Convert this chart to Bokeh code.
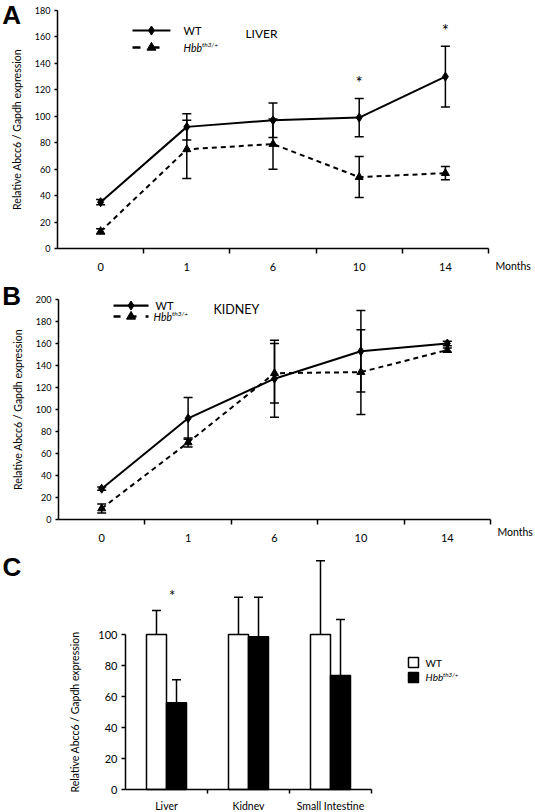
import math
from bokeh.plotting import figure
from bokeh.layouts import column
from bokeh.models import Range1d, FixedTicker, Whisker, TeeHead, ColumnDataSource, LinearAxis
from bokeh.core.properties import value
from bokeh.embed import file_html
from bokeh.resources import INLINE

FONT = "Lato"

# ---------------- data ----------------
months = ["0", "1", "6", "10", "14"]

liver_wt = [35, 92, 97, 99, 130]
liver_wt_err = [2, 10, 13, 14.5, 23]
liver_hbb = [13, 75, 79, 54, 57]
liver_hbb_err = [2, 22, 19, 15.5, 5]
liver_sig = [False, False, False, True, True]

kidney_wt = [28, 92, 128, 153, 160]
kidney_wt_err = [1.5, 19, 35, 37, 2]
kidney_hbb = [10, 70, 133, 134, 154]
kidney_hbb_err = [4, 4, 27, 38.5, 2]
kidney_sig = [False, False, False, False, False]

tissues = ["Liver", "Kidney", "Small Intestine"]
tissue_wt = [100, 100, 100]
tissue_wt_err = [15.5, 24, 47.6]
tissue_hbb = [56, 98.5, 73.5]
tissue_hbb_err = [14.8, 25.5, 36.2]
tissue_sig = [True, False, False]

y_ticks_a = list(range(0, 181, 20))
y_ticks_b = list(range(0, 201, 20))
y_ticks_c = list(range(0, 101, 20))

YLABEL = "Relative Abcc6 / Gapdh expression"
W = 535


def make_fig(height, axis_left_px, axis_bottom_px, sx, sy):
    """Figure whose frame fills the whole canvas; axes sit at fixed locations inside it."""
    x0 = -0.5 - axis_left_px / sx
    y1 = axis_bottom_px / sy
    p = figure(width=W, height=height,
               x_range=Range1d(x0, x0 + W / sx), y_range=Range1d(y1 - height / sy, y1),
               output_backend="svg", toolbar_location=None,
               x_axis_location=None, y_axis_location=None,
               min_border=0, min_border_left=0, min_border_right=0,
               min_border_top=0, min_border_bottom=0)
    p.xgrid.visible = False
    p.ygrid.visible = False
    p.outline_line_color = None
    p.background_fill_color = "white"
    p.border_fill_color = "white"
    return p


def style_axis(ax):
    ax.axis_line_color = "black"
    ax.axis_line_width = 1.5
    ax.major_tick_line_color = "black"
    ax.major_tick_line_width = 1.5
    ax.minor_tick_line_color = "black"
    ax.minor_tick_line_width = 1.5
    ax.major_label_text_font = FONT
    ax.major_label_text_color = "black"
    ax.axis_label_text_font = FONT
    ax.axis_label_text_font_style = "normal"
    ax.axis_label_text_color = "black"


def add_axes(p, labels, y_ticks, y_max, x_font, y_font, x_standoff, x_tick, y_tick, ylabel_standoff):
    n = len(labels)
    xa = LinearAxis(fixed_location=0)
    style_axis(xa)
    xa.ticker = FixedTicker(ticks=list(range(n)), minor_ticks=[i + 0.5 for i in range(n)])
    xa.major_label_overrides = {i: t for i, t in enumerate(labels)}
    xa.bounds = (-0.5, n - 0.5)
    xa.major_tick_out = 0
    xa.major_tick_in = 0
    xa.minor_tick_out = x_tick
    xa.minor_tick_in = 0
    xa.major_label_text_font_size = x_font
    xa.major_label_standoff = x_standoff
    p.add_layout(xa, "below")

    ya = LinearAxis(fixed_location=-0.5)
    style_axis(ya)
    ya.ticker = FixedTicker(ticks=y_ticks, minor_ticks=[])
    ya.bounds = (0, y_max)
    ya.major_tick_out = y_tick
    ya.major_tick_in = 0
    ya.minor_tick_out = 0
    ya.minor_tick_in = 0
    ya.major_label_text_font_size = y_font
    ya.major_label_standoff = 4
    ya.axis_label = YLABEL
    ya.axis_label_text_font_size = "10.5px"
    ya.axis_label_standoff = ylabel_standoff
    p.add_layout(ya, "left")


def txt(p, x, y, s, size="11px", style="normal", align="left", baseline="middle", **kw):
    p.text([x], [y], text=[s], text_font=value(FONT), text_font_style=style,
           text_font_size=size, text_align=align, text_baseline=baseline,
           text_color="black", **kw)


def letter(p, x, y, s):
    p.text([x], [y], text=[s], text_font=value("Liberation Sans"), text_font_style="bold",
           text_font_size="26px", text_align="left", text_baseline="top", text_color="black")


def hbb_label(p, x, y, size=10.5):
    txt(p, x, y, "Hbb", size=f"{size}px", style="italic")
    txt(p, x, y, "th3/+", size=f"{size * 0.62:.1f}px", style="italic",
        x_offset=size * 1.75, y_offset=-3)


def line_panel(height, axis_left_px, axis_bottom_px, sx, sy, y_max, y_ticks,
               wt, wt_err, hbb, hbb_err, sig):
    p = make_fig(height, axis_left_px, axis_bottom_px, sx, sy)
    add_axes(p, months, y_ticks, y_max, "11px", "9px", 9, 5, 3, 9)
    x = list(range(len(months)))
    src = ColumnDataSource(dict(
        x=x, wt=wt, hbb=hbb,
        wt_lo=[v - e for v, e in zip(wt, wt_err)], wt_hi=[v + e for v, e in zip(wt, wt_err)],
        hbb_lo=[v - e for v, e in zip(hbb, hbb_err)], hbb_hi=[v + e for v, e in zip(hbb, hbb_err)],
    ))
    for lo, hi in (("hbb_lo", "hbb_hi"), ("wt_lo", "wt_hi")):
        p.add_layout(Whisker(source=src, base="x", lower=lo, upper=hi, line_width=1.5, line_color="black",
                             upper_head=TeeHead(size=9, line_width=1.5, line_color="black"),
                             lower_head=TeeHead(size=9, line_width=1.5, line_color="black")))
    p.line("x", "hbb", source=src, line_dash="5 4", line_width=2, line_color="black")
    p.scatter("x", "hbb", source=src, marker="triangle", size=8, color="black")
    p.line("x", "wt", source=src, line_width=2, line_color="black")
    p.scatter("x", "wt", source=src, marker="diamond", size=9, color="black")

    sx_ = [i for i, s in enumerate(sig) if s]
    sy_ = [wt[i] + wt_err[i] + 12 for i in sx_]
    if sx_:
        p.text(sx_, sy_, text=["*"] * len(sx_), text_font=value(FONT), text_font_size="17px",
               text_align="center", text_baseline="middle", text_color="black")
    return p


def legend_lines(p, x0, x1, y_wt, y_hbb, x_txt_wt, x_txt_hbb, dash):
    xm = (x0 + x1) / 2
    p.line([x0, x1], [y_wt, y_wt], line_width=2.2, line_color="black")
    p.scatter([xm], [y_wt], marker="diamond", size=9, color="black")
    p.line([x0, x1], [y_hbb, y_hbb], line_width=2.4, line_dash=dash, line_color="black")
    p.scatter([xm], [y_hbb], marker="triangle", size=9, color="black")
    txt(p, x_txt_wt, y_wt, "WT", size="11px")
    hbb_label(p, x_txt_hbb, y_hbb)


# ---------------- panel A (liver) ----------------
pa = line_panel(280, 57, 248, 86.2, 1.322, 180, y_ticks_a,
                liver_wt, liver_wt_err, liver_hbb, liver_hbb_err, liver_sig)
letter(pa, -1.14, 187.6, "A")
txt(pa, 4.58, -12.9, "Months", size="10.5px")
legend_lines(pa, 0.37, 0.81, 164.9, 152.0, 0.962, 0.962, "8 11")
txt(pa, 1.68, 162.6, "LIVER", size="12px")

# ---------------- panel B (kidney) ----------------
pb = line_panel(265, 58, 239, 86.4, 1.1, 200, y_ticks_b,
                kidney_wt, kidney_wt_err, kidney_hbb, kidney_hbb_err, kidney_sig)
letter(pb, -1.15, 216.4, "B")
txt(pb, 4.58, -11.8, "Months", size="10.5px")
legend_lines(pb, 0.137, 0.542, 194.5, 184.5, 0.623, 0.60, "7 9")
txt(pb, 1.294, 190.9, "KIDNEY", size="12.5px")

# ---------------- panel C (tissues) ----------------
pc = make_fig(265, 125, 244, 82, 1.55)
add_axes(pc, tissues, y_ticks_c, 100, "10.5px", "11px", 6, 4, 4, 14)
xc = list(range(len(tissues)))
off = 0.122
bw = 0.244
srcc = ColumnDataSource(dict(
    xw=[i - off for i in xc], xh=[i + off for i in xc],
    wt=tissue_wt, hbb=tissue_hbb,
    wt_hi=[v + e for v, e in zip(tissue_wt, tissue_wt_err)],
    hbb_hi=[v + e for v, e in zip(tissue_hbb, tissue_hbb_err)],
))
for b, lo, hi in (("xw", "wt", "wt_hi"), ("xh", "hbb", "hbb_hi")):
    pc.add_layout(Whisker(source=srcc, base=b, lower=lo, upper=hi, line_width=1.5, line_color="black",
                          upper_head=TeeHead(size=9, line_width=1.5, line_color="black"),
                          lower_head=None))
pc.vbar(x="xw", top="wt", width=bw, source=srcc, fill_color="white", line_color="black", line_width=1.5)
pc.vbar(x="xh", top="hbb", width=bw, source=srcc, fill_color="black", line_color="black", line_width=1.5)
sxc = [i for i, s in enumerate(tissue_sig) if s]
syc = [max(tissue_wt[i] + tissue_wt_err[i], tissue_hbb[i] + tissue_hbb_err[i]) + 10 for i in sxc]
pc.text([i + 0.07 for i in sxc], syc, text=["*"] * len(sxc), text_font=value(FONT), text_font_size="15px",
        text_align="center", text_baseline="middle", text_color="black")
letter(pc, -2.0, 153.5, "C")
pc.rect([3.012], [81.9], width=10, height=10, width_units="screen", height_units="screen",
        fill_color="white", line_color="black", line_width=1.5)
pc.rect([3.012], [72.3], width=10, height=10, width_units="screen", height_units="screen",
        fill_color="black", line_color="black", line_width=1.5)
txt(pc, 3.16, 81.9, "WT", size="10px")
hbb_label(pc, 3.16, 72.3, size=10)

layout = column(pa, pb, pc, spacing=0)
open("out.html", "w").write(file_html(layout, INLINE))
